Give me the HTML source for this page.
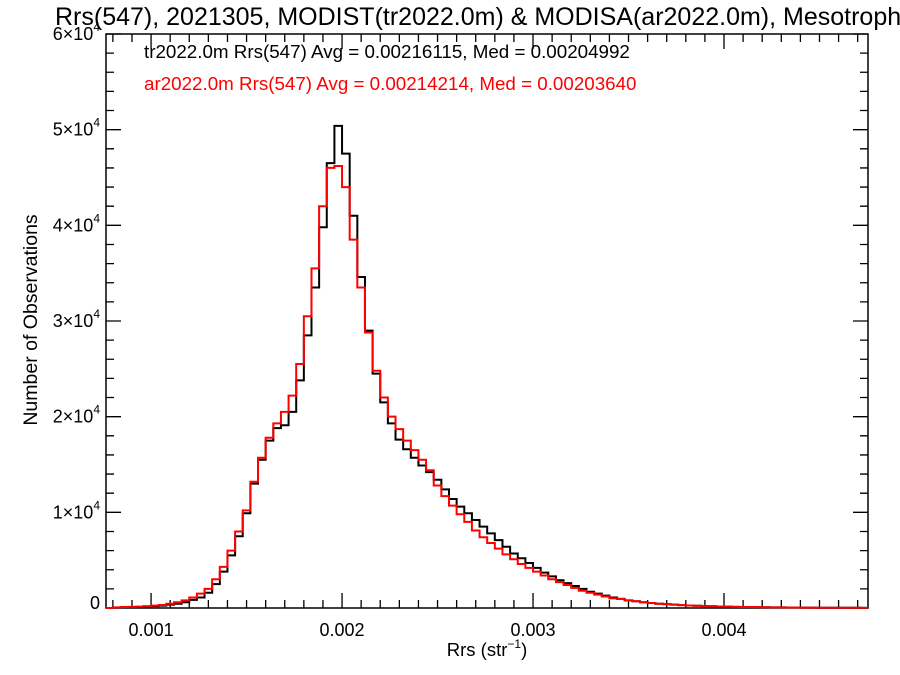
<!DOCTYPE html>
<html><head><meta charset="utf-8"><style>
body{margin:0;background:#fff;}
svg{display:block;font-family:"Liberation Sans",Arial,sans-serif;}
</style></head><body>
<svg id="chart" width="900" height="675" viewBox="0 0 900 675">
<text x="55" y="25" font-size="25" fill="#000">Rrs(547), 2021305, MODIST(tr2022.0m) &amp; MODISA(ar2022.0m), Mesotroph</text>
<text x="144" y="58" font-size="18.8" fill="#000">tr2022.0m Rrs(547) Avg = 0.00216115, Med = 0.00204992</text>
<text x="144" y="90" font-size="18.8" fill="#ff0000">ar2022.0m Rrs(547) Avg = 0.00214214, Med = 0.00203640</text>
<text x="487" y="656" font-size="18.5" text-anchor="middle">Rrs (str<tspan font-size="12" dy="-8">−1</tspan><tspan dy="8">)</tspan></text>
<text transform="translate(37,320) rotate(-90)" font-size="19.5" text-anchor="middle">Number of Observations</text>
<g id="axes"></g>
<g id="series"></g>
</svg>
<script>
const binStart = 0.00076;
const binWidth = 0.00004;
const xTicks = [0.001, 0.002, 0.003, 0.004];
const xTickLabels = ["0.001", "0.002", "0.003", "0.004"];
const yTicks = [0, 1, 2, 3, 4, 5, 6];
const yTickLabels = ["0", "1", "2", "3", "4", "5", "6"];
const trCounts = [0,0.005,0.008,0.010,0.012,0.015,0.020,0.025,0.035,0.045,0.060,0.085,0.11,0.16,0.25,0.38,0.55,0.75,0.99,1.30,1.55,1.75,1.88,1.91,2.05,2.38,2.85,3.35,3.98,4.65,5.04,4.75,4.10,3.46,2.90,2.45,2.15,1.93,1.76,1.66,1.57,1.49,1.42,1.34,1.24,1.14,1.06,0.99,0.92,0.85,0.78,0.71,0.64,0.57,0.52,0.47,0.42,0.37,0.33,0.29,0.26,0.23,0.20,0.17,0.15,0.13,0.11,0.095,0.08,0.07,0.06,0.052,0.045,0.04,0.035,0.03,0.026,0.023,0.02,0.018,0.016,0.014,0.012,0.011,0.01,0.009,0.008,0.007,0.006,0.005,0.005,0.004,0.004,0.003,0.003,0.003,0.002,0.002,0.002,0.001];
const arCounts = [0,0.006,0.01,0.012,0.015,0.02,0.025,0.032,0.045,0.06,0.08,0.11,0.15,0.2,0.3,0.43,0.6,0.8,1.02,1.32,1.57,1.78,1.93,2.05,2.22,2.55,3.05,3.55,4.2,4.6,4.62,4.4,3.85,3.35,2.88,2.48,2.2,2.0,1.87,1.75,1.65,1.55,1.44,1.28,1.17,1.07,0.98,0.9,0.81,0.74,0.68,0.62,0.56,0.51,0.46,0.42,0.38,0.34,0.3,0.27,0.24,0.21,0.18,0.16,0.14,0.12,0.1,0.095,0.08,0.07,0.06,0.052,0.045,0.04,0.035,0.03,0.026,0.023,0.02,0.018,0.016,0.014,0.012,0.011,0.01,0.009,0.008,0.007,0.006,0.005,0.005,0.004,0.004,0.003,0.003,0.003,0.002,0.002,0.002,0.001];

const L=106,R=868,T=34,B=608;
const xMin=0.000764,xMax=0.004754,yMax=6;
const xs=v=>L+(v-xMin)/(xMax-xMin)*(R-L);
const ys=v=>B-v/yMax*(B-T);
const NS="http://www.w3.org/2000/svg";
const axes=document.getElementById('axes');
function mk(tag,attrs,parent){const e=document.createElementNS(NS,tag);for(const k in attrs)e.setAttribute(k,attrs[k]);parent.appendChild(e);return e;}

const frame=mk('rect',{x:L,y:T,width:R-L,height:B-T,fill:'none',stroke:'#000','stroke-width':1.5},axes);



let d='';
for(let v=0.0008;v<=xMax+1e-9;v+=0.0001){const x=xs(v);const major=Math.abs(v*1000-Math.round(v*1000))<1e-6;const len=major?15:8;d+=`M${x},${B}v${-len}M${x},${T}v${len}`;}
for(let v=0;v<=yMax+1e-9;v+=0.2){const y=ys(v);const major=Math.abs(v-Math.round(v))<1e-6;const len=major?15:8;d+=`M${L},${y}h${len}M${R},${y}h${-len}`;}
const tk=mk('path',{d:d,stroke:'#000','stroke-width':1.3,fill:'none'},axes);



xTicks.forEach((v,i)=>{
  const t=mk('text',{x:xs(v),y:B+28,'font-size':18,'text-anchor':'middle'},axes);
  t.textContent=xTickLabels[i];
  
  
});
yTicks.forEach((v,i)=>{
  const t=mk('text',{x:100,y:ys(v)+(v===0?1:6),'font-size':18,'text-anchor':'end'},axes);
  
  
  if(v===0){t.textContent='0';}
  else{t.innerHTML=yTickLabels[i]+'×10<tspan font-size="12" dy="-9">4</tspan>';}
});

function stepPath(counts){
  let p='';
  counts.forEach((c,i)=>{
    const x0=xs(binStart+i*binWidth),x1=xs(binStart+(i+1)*binWidth),y=ys(c);
    p+=(i===0?`M${Math.max(x0,L)},${y}`:`L${x0},${y}`)+`L${Math.min(x1,R)},${y}`;
  });
  return p;
}
const ser=document.getElementById('series');
const pb=mk('path',{d:stepPath(trCounts),stroke:'#000','stroke-width':2,fill:'none'},ser);


const pr=mk('path',{d:stepPath(arCounts),stroke:'#ff0000','stroke-width':2,fill:'none'},ser);


</script>
</body></html>
